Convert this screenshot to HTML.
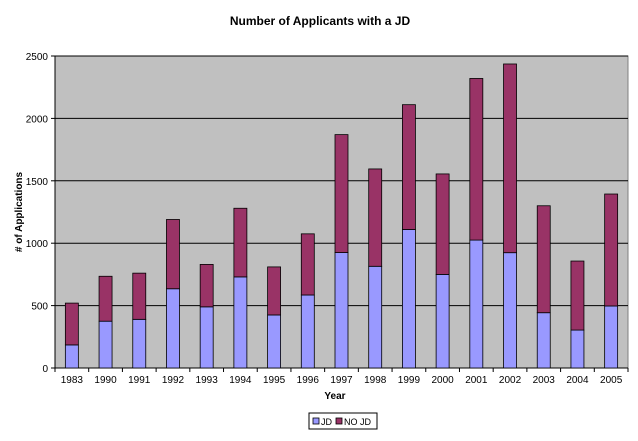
<!DOCTYPE html>
<html><head><meta charset="utf-8"><style>
body{margin:0;background:#fff;font-family:"Liberation Sans",Arial,sans-serif}
svg text{font-family:"Liberation Sans",Arial,sans-serif}
</style></head><body>
<svg id="c" width="638" height="436"></svg>
<script>
const categories=["1983","1990","1991","1992","1993","1994","1995","1996","1997","1998","1999","2000","2001","2002","2003","2004","2005"];
const jd=[185,375,390,635,490,730,425,585,925,815,1110,750,1025,924,443,304,497];
const noJd=[335,360,370,555,340,550,385,490,945,780,1000,805,1295,1512,857,553,897];
const yTicks=[0,500,1000,1500,2000,2500];
const NS="http://www.w3.org/2000/svg";
const svg=document.getElementById('c');
const L=55,R=628,T=56,B=368,maxV=2500;
const y=v=>B-(v/maxV)*(B-T);
const bw=(R-L)/categories.length;
const x=i=>L+bw*i+bw/2;
function mk(tag,a,txt){const e=document.createElementNS(NS,tag);for(const k in a)e.setAttribute(k,a[k]);if(txt!==undefined)e.textContent=txt;svg.appendChild(e);return e;}
let e;
e=mk('rect',{x:L,y:T,width:R-L,height:B-T,fill:'#c0c0c0',stroke:'#808080'});


yTicks.forEach(t=>{
 e=mk('line',{x1:L,x2:R,y1:y(t),y2:y(t),stroke:'#000','stroke-width':1});
 
 
 mk('line',{x1:L-4,x2:L,y1:y(t),y2:y(t),stroke:'#000'});
 e=mk('text',{x:L-7,y:y(t)+4,'text-anchor':'end','font-size':10},String(t));
 
 
});
mk('line',{x1:L,x2:L,y1:T,y2:B,stroke:'#000'});
mk('line',{x1:L,x2:R,y1:B,y2:B,stroke:'#000'});
categories.forEach((c,i)=>{
 mk('line',{x1:L+bw*i,x2:L+bw*i,y1:B,y2:B+4,stroke:'#000'});
 const w=13,bx=x(i)-w/2;
 e=mk('rect',{x:bx,y:y(jd[i]),width:w,height:B-y(jd[i]),fill:'#9999ff',stroke:'#000','stroke-width':0.8});
 
 
 e=mk('rect',{x:bx,y:y(jd[i]+noJd[i]),width:w,height:y(jd[i])-y(jd[i]+noJd[i]),fill:'#993366',stroke:'#000','stroke-width':0.8});
 
 
 e=mk('text',{x:x(i),y:B+15,'text-anchor':'middle','font-size':10},c);
 
 
});
mk('line',{x1:R,x2:R,y1:B,y2:B+4,stroke:'#000'});
e=mk('text',{x:320,y:25,'text-anchor':'middle','font-size':12,'font-weight':'bold'},'Number of Applicants with a JD');


e=mk('text',{x:335,y:399,'text-anchor':'middle','font-size':10,'font-weight':'bold'},'Year');


e=mk('text',{x:22,y:212,'text-anchor':'middle','font-size':10,'font-weight':'bold',transform:'rotate(-90 22 212)'},'# of Applications');


e=mk('rect',{x:309,y:413,width:68,height:16,fill:'#fff',stroke:'#000'});


mk('rect',{x:313,y:418,width:6,height:6,fill:'#9999ff',stroke:'#000','stroke-width':0.8});
e=mk('text',{x:321,y:425,'font-size':9},'JD');


mk('rect',{x:336,y:418,width:6,height:6,fill:'#993366',stroke:'#000','stroke-width':0.8});
e=mk('text',{x:344,y:425,'font-size':9},'NO JD');


</script>
</body></html>
